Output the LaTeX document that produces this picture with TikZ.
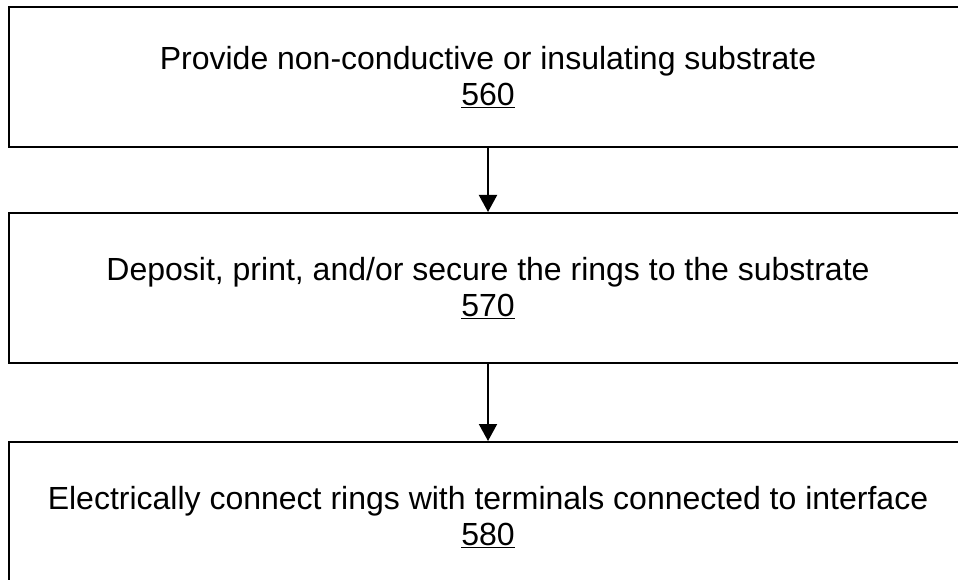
\documentclass[tikz,border=0pt]{standalone}
\usepackage{fontspec}
\setmainfont{Liberation Sans}
\usetikzlibrary{arrows.meta}
\begin{document}
\begin{tikzpicture}[x=1pt,y=-1pt,
  stepbox/.style={draw=black, line width=2pt, minimum width=958pt, align=center,
    font=\fontsize{32}{36}\selectfont, inner sep=0pt},
  flow/.style={-{Triangle[width=18pt,length=17pt]}, line width=2pt}]
\useasboundingbox (0,0) rectangle (958,580);
\clip (0,0) rectangle (958,580);
\node[stepbox, minimum height=140pt] (s1) at (488,77.5) {Provide non-conductive or insulating substrate\\\underline{560}};
\node[stepbox, minimum height=150pt] (s2) at (488,288) {Deposit, print, and/or secure the rings to the substrate\\\underline{570}};
\node[stepbox, minimum height=150pt] (s3) at (488,517) {Electrically connect rings with terminals connected to interface\\\underline{580}};
\draw[flow] (s1) -- (s2);
\draw[flow] (s2) -- (s3);
\end{tikzpicture}
\end{document}
